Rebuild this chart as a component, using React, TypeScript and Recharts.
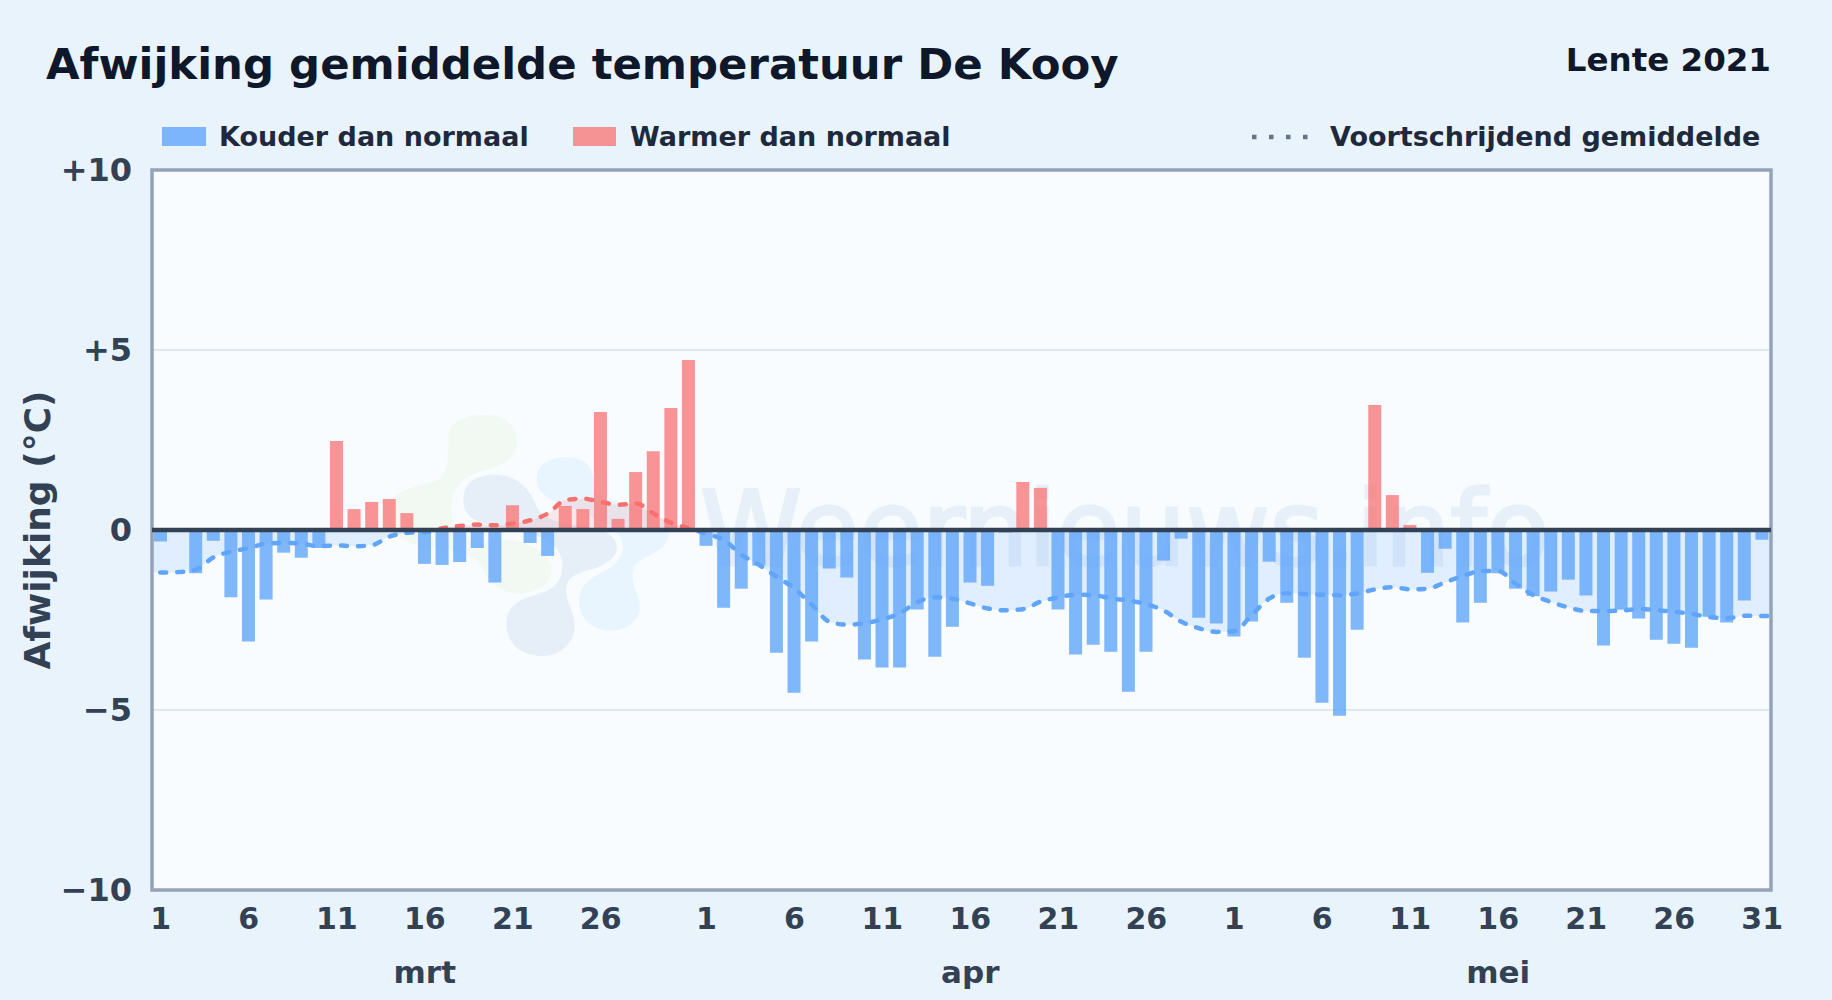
import {
  Area,
  Bar,
  CartesianGrid,
  Cell,
  ComposedChart,
  ReferenceArea,
  ReferenceLine,
  XAxis,
  YAxis,
} from "recharts";

const marchDeviation = [
  -0.32, 0, -1.2, -0.3, -1.87, -3.1, -1.93, -0.63, -0.77, -0.5, 2.47, 0.58, 0.78, 0.86, 0.47, -0.94,
  -0.97, -0.89, -0.5, -1.46, 0.69, -0.36, -0.72, 0.67, 0.58, 3.28, 0.31, 1.61, 2.19, 3.39, 4.72,
];
const aprilDeviation = [
  -0.44, -2.16, -1.63, -0.99, -3.41, -4.52, -3.1, -1.07, -1.32, -3.6, -3.82, -3.82, -2.21, -3.52, -2.69,
  -1.46, -1.55, -0.07, 1.33, 1.17, -2.21, -3.46, -3.19, -3.38, -4.49, -3.38, -0.85, -0.24, -2.44, -2.6,
];
const mayDeviation = [
  -2.96, -2.54, -0.88, -2.02, -3.55, -4.8, -5.16, -2.77, 3.47, 0.97, 0.14, -1.19, -0.52, -2.57, -2.02, -1.2,
  -1.63, -1.83, -1.71, -1.38, -1.82, -3.21, -2.21, -2.46, -3.05, -3.16, -3.27, -2.41, -2.57, -1.96, -0.27,
];

const marchAverage = [
  -1.18, -1.17, -1.1, -0.76, -0.6, -0.5, -0.38, -0.36, -0.38, -0.45, -0.43, -0.45, -0.42, -0.18, -0.08, -0.06,
  0.05, 0.11, 0.15, 0.13, 0.18, 0.27, 0.46, 0.83, 0.87, 0.78, 0.7, 0.74, 0.46, 0.2, 0.05,
];
const aprilAverage = [
  -0.1, -0.28, -0.69, -0.97, -1.3, -1.62, -2.08, -2.55, -2.63, -2.59, -2.48, -2.31, -2.0, -1.87, -1.91,
  -2.04, -2.18, -2.23, -2.2, -1.99, -1.87, -1.8, -1.81, -1.9, -1.96, -2.06, -2.24, -2.55, -2.73, -2.83,
];
const mayAverage = [
  -2.81, -2.36, -1.9, -1.76, -1.78, -1.8, -1.81, -1.76, -1.65, -1.59, -1.65, -1.63, -1.45, -1.28, -1.14, -1.14,
  -1.5, -1.81, -2.0, -2.15, -2.25, -2.25, -2.24, -2.19, -2.23, -2.27, -2.33, -2.42, -2.45, -2.38, -2.39,
];

const months = ["mrt", "apr", "mei"];
const deviations = [marchDeviation, aprilDeviation, mayDeviation];
const averages = [marchAverage, aprilAverage, mayAverage];
const labelledDays = [1, 6, 11, 16, 21, 26];
const monthMiddleDay = 16;
const yTicks = [-10, -5, 0, 5, 10];

// the average runs on past the first and last bar, clipped at the plot edges
const edgeLeft = { x: -1, afwijking: null, gemiddelde: -1.18, dag: "", maand: "" };
const edgeRight = { x: 92, afwijking: null, gemiddelde: -2.39, dag: "", maand: "" };

const days = months.flatMap((maand, m) =>
  deviations[m].map((afwijking, d) => ({ dag: String(d + 1), maand, afwijking, gemiddelde: averages[m][d] })),
);
const data = [edgeLeft, ...days.map((d, x) => ({ ...d, x })), edgeRight];

const isTickDay = (d: { dag: string; maand: string }) =>
  labelledDays.includes(Number(d.dag)) || (d.maand === "mei" && d.dag === "31");
const dayTicks = data.filter((d) => d.dag && isTickDay(d)).map((d) => d.x);
const monthTicks = data.filter((d) => Number(d.dag) === monthMiddleDay).map((d) => d.x);

const COLD = "rgba(96,165,250,0.8)";
const WARM = "rgba(248,113,113,0.75)";
const FONT = "'DejaVu Sans', sans-serif";
const TEXT = "#334155";

const formatY = (v: number) => (v > 0 ? `+${v}` : v < 0 ? `\u2212${Math.abs(v)}` : "0");
const formatDay = (x: number) => data[x + 1]?.dag ?? "";
const formatMonth = (x: number) => data[x + 1]?.maand ?? "";

const Watermark = () => (
  <>
    <svg
      style={{ position: "absolute", left: 320, top: 380 }}
      width={460}
      height={320}
      viewBox="0 0 1380 960"
      strokeLinejoin="round"
    >
      <path
        d="M385 170 C385 120 450 100 510 105 C570 110 595 150 590 195 C585 240 540 260 480 275 C430 290 400 320 395 370 C390 420 410 450 470 490 C520 470 610 470 670 520 C720 570 690 630 610 640 C550 645 505 610 490 570 C470 520 400 510 330 505 C260 500 200 450 190 400 C185 350 270 320 340 305 C390 290 385 220 385 170Z"
        fill="#f2f9f3"
      />
      <path
        d="M650 290 C655 245 700 230 750 232 C800 235 825 270 820 310 C815 345 860 355 930 375 C1000 395 1050 420 1048 460 C1045 510 990 520 950 550 C930 570 935 610 955 650 C975 710 930 752 870 752 C810 750 775 710 777 660 C780 610 820 590 860 570 C905 545 920 500 900 470 C870 430 780 390 720 370 C680 355 645 330 650 290Z"
        fill="#e8f5fe"
        stroke="#f8fcff"
        strokeWidth={24}
        paintOrder="stroke"
      />
      <path
        d="M430 360 C430 300 480 280 540 285 C600 290 630 330 650 380 C670 420 720 430 800 440 C870 450 895 480 890 510 C880 550 830 565 790 575 C740 590 725 620 750 680 C790 760 740 830 660 828 C590 825 555 780 560 720 C565 670 610 655 660 640 C710 625 735 590 725 540 C715 480 640 460 560 445 C480 430 430 420 430 360Z"
        fill="#e6eff8"
        stroke="#f8fcff"
        strokeWidth={24}
        paintOrder="stroke"
      />
    </svg>
    <svg style={{ position: "absolute", left: 0, top: 0 }} width={1832} height={1000}>
      <text
        x={700}
        y={565}
        fontFamily={FONT}
        fontSize={103}
        fill="#1e5aaa"
        stroke="#1e5aaa"
        strokeWidth={3}
        opacity={0.07}
      >
        Weernieuws.info
      </text>
    </svg>
  </>
);

const Headers = () => (
  <svg style={{ position: "absolute", left: 0, top: 0 }} width={1832} height={1000} fontFamily={FONT} fontWeight={700}>
    <text x={46} y={79} fontSize={43.4} fill="#0f172a">
      Afwijking gemiddelde temperatuur De Kooy
    </text>
    <text x={1771} y={71} fontSize={32.5} fill="#0f172a" textAnchor="end">
      Lente 2021
    </text>
    <rect x={162} y={127} width={44} height={19} fill={COLD} />
    <text x={219} y={146} fontSize={27} fill="#1e293b">
      Kouder dan normaal
    </text>
    <rect x={573} y={127} width={43} height={19} fill={WARM} />
    <text x={630} y={146} fontSize={27} fill="#1e293b">
      Warmer dan normaal
    </text>
    <line x1={1252} x2={1308} y1={137} y2={137} stroke="#64748b" strokeWidth={4.5} strokeDasharray="4.5 12.5" />
    <text x={1330} y={146} fontSize={27} fill="#1e293b">
      Voortschrijdend gemiddelde
    </text>
  </svg>
);

export default function App() {
  return (
    <div
      style={{
        position: "absolute",
        left: 0,
        top: 0,
        width: 1832,
        height: 1000,
        overflow: "hidden",
        background: "#e8f3fc",
      }}
    >
      <div style={{ position: "absolute", left: 152, top: 170, width: 1619, height: 720, background: "#f8fcff" }} />
      <Watermark />
      <Headers />
      <div style={{ position: "absolute", left: 0, top: 0 }}>
        <ComposedChart
          width={1832}
          height={1000}
          data={data}
          margin={{ top: 170, right: 61, left: 0, bottom: 0 }}
        >
          <defs>
            <linearGradient id="avgStroke" gradientUnits="userSpaceOnUse" x1={0} x2={0} y1={170} y2={890}>
              <stop offset="50%" stopColor="#f87171" />
              <stop offset="50%" stopColor="#60a5fa" />
            </linearGradient>
            <linearGradient id="avgFill" gradientUnits="userSpaceOnUse" x1={0} x2={0} y1={170} y2={890}>
              <stop offset="50%" stopColor="rgba(248,113,113,0.14)" />
              <stop offset="50%" stopColor="rgba(96,165,250,0.16)" />
            </linearGradient>
          </defs>
          <CartesianGrid vertical={false} stroke="#e2e8f0" strokeWidth={2} />
          <XAxis
            dataKey="x"
            type="number"
            domain={[-0.5, 91.5]}
            allowDataOverflow
            ticks={dayTicks}
            interval={0}
            height={55}
            axisLine={false}
            tickLine={false}
            tickSize={0}
            tickMargin={18}
            tickFormatter={formatDay}
            tick={{ fontFamily: FONT, fontSize: 30, fontWeight: 700, fill: TEXT }}
          />
          <XAxis
            xAxisId="maand"
            dataKey="x"
            type="number"
            domain={[-0.5, 91.5]}
            allowDataOverflow
            ticks={monthTicks}
            interval={0}
            height={55}
            axisLine={false}
            tickLine={false}
            tickSize={0}
            tickMargin={16}
            tickFormatter={formatMonth}
            tick={{ fontFamily: FONT, fontSize: 31, fontWeight: 700, fill: TEXT }}
          />
          <YAxis
            domain={[-10, 10]}
            ticks={yTicks}
            width={152}
            axisLine={false}
            tickLine={false}
            tickSize={0}
            tickMargin={20}
            tickFormatter={formatY}
            tick={{ fontFamily: FONT, fontSize: 32, fontWeight: 700, fill: TEXT }}
            label={{
              value: "Afwijking (°C)",
              angle: -90,
              position: "insideLeft",
              offset: 37,
              style: { fontFamily: FONT, fontSize: 36, fontWeight: 700, fill: TEXT, textAnchor: "middle" },
            }}
          />
          <Area
            dataKey="gemiddelde"
            type="monotone"
            fill="url(#avgFill)"
            fillOpacity={1}
            stroke="url(#avgStroke)"
            strokeWidth={4.5}
            strokeDasharray="6 11"
            strokeLinecap="round"
            dot={false}
            activeDot={false}
            isAnimationActive={false}
          />
          <Bar dataKey="afwijking" barSize={13} isAnimationActive={false}>
            {data.map((d) => (
              <Cell key={d.x} fill={(d.afwijking ?? 0) < 0 ? COLD : WARM} />
            ))}
          </Bar>
          <ReferenceLine y={0} stroke="#334155" strokeWidth={4.5} />
          <ReferenceArea y1={-10} y2={10} fill="none" stroke="#94a3b8" strokeWidth={3.5} />
        </ComposedChart>
      </div>
    </div>
  );
}
